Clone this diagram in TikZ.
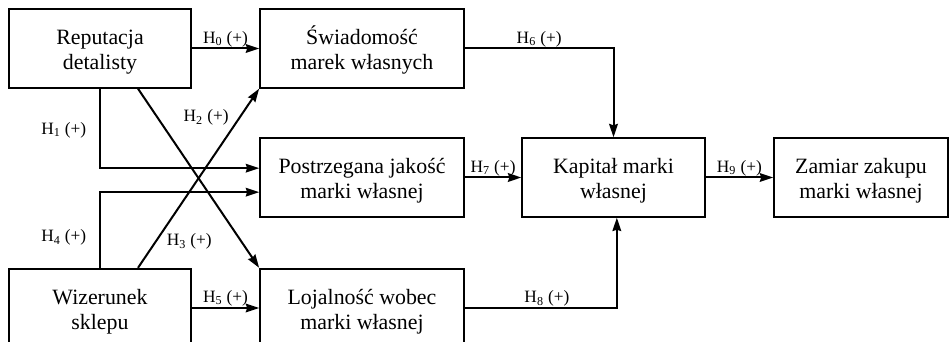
\documentclass[tikz,border=0pt]{standalone}
\usepackage{fontspec}
\setmainfont{Liberation Serif}
\usepackage{tikz}
\usetikzlibrary{arrows.meta}

\begin{document}
\begin{tikzpicture}[->,line width=1.5pt,>={Stealth[length=10pt,width=6.5pt,inset=1pt]},x=0.75pt,y=-0.75pt]
    \tikzstyle{hyp}=[text=black,font=\fontsize{13}{15}\selectfont,inner sep=0.6pt]
    \tikzstyle{construct}=[draw=black, rectangle, line width=1.3pt, minimum height=59pt, align=center, text=black,
        text height=33pt, text depth=0.8pt, font=\fontsize{16.4}{18.8}\selectfont]
    \tikzstyle{constructsm}=[style=construct, minimum width=136.5pt]
    \tikzstyle{constructlg}=[style=construct, minimum width=153pt]
    \useasboundingbox (0,0) rectangle (949,342);

    \node[constructsm] (REP) at (100,48.5)   {Reputacja\\detalisty};
    \node[constructsm] (WIZ) at (100,308)    {Wizerunek\\sklepu};
    \node[constructlg] (SWI) at (362,48.5)   {Świadomość\\marek własnych};
    \node[constructlg] (POS) at (362,177.5)  {Postrzegana jakość\\marki własnej};
    \node[constructlg] (LOJ) at (362,308)    {Lojalność wobec\\marki własnej};
    \node[construct, minimum width=137pt] (KAP) at (613.5,177.5) {Kapitał marki\\własnej};
    \node[construct, minimum width=130.5pt] (ZAM) at (861,177.5) {Zamiar zakupu\\marki własnej};

    \draw (REP) -- node[hyp,above] {H\textsubscript{0} (+)} (SWI);
    \draw (REP.south) |- node[hyp,pos=0.26,left=9pt] {H\textsubscript{1} (+)} ([yshift=7pt]POS.west);
    \draw ([xshift=28.5pt]WIZ.north) -- node[hyp,pos=0.84,left=7pt] {H\textsubscript{2} (+)} (SWI.south west);
    \draw ([xshift=28.5pt]REP.south) -- node[hyp,pos=0.855,left=21pt] {H\textsubscript{3} (+)} (LOJ.north west);
    \draw (WIZ.north) |- node[hyp,pos=0.2,left=9pt] {H\textsubscript{4} (+)} ([yshift=-11pt]POS.west);
    \draw (WIZ) -- node[hyp,above] {H\textsubscript{5} (+)} (LOJ);
    \draw (SWI.east) -| node[hyp,pos=0.25,above] {H\textsubscript{6} (+)} (KAP.north);
    \draw (POS) -- node[hyp,above] {H\textsubscript{7} (+)} (KAP);
    \draw (LOJ.east) -| node[hyp,pos=0.27,above] {H\textsubscript{8} (+)} ([xshift=2.5pt]KAP.south);
    \draw (KAP) -- node[hyp,above] {H\textsubscript{9} (+)} (ZAM);
\end{tikzpicture}
\end{document}
